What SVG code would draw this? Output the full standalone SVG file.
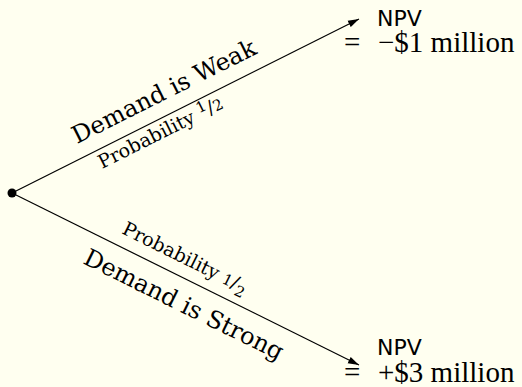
<svg xmlns="http://www.w3.org/2000/svg" width="522" height="387" viewBox="0 0 522 387">
<style>
.lbl{font-family:"DejaVu Serif",serif;fill:#000}
.big{font-size:24px}
.prob{font-size:19px}
.frac{font-size:15px}
.npv{font-family:"DejaVu Sans",sans-serif;font-size:22px;fill:#000}
.val{font-family:"Liberation Serif","Times New Roman",serif;font-size:29px;fill:#000}
.edge{stroke:#000;stroke-width:1.2;fill:none}
</style>
<defs>
<marker id="arr" markerUnits="userSpaceOnUse" markerWidth="12" markerHeight="8" refX="11" refY="4" orient="auto">
<path d="M0,0.5 L11,4 L0,7.5 z" fill="#000"/>
</marker>
</defs>
<rect width="522" height="387" fill="#FFFFF0"/>
<g id="connectors">
<line class="edge" x1="12" y1="193" x2="359" y2="19" marker-end="url(#arr)"/>
<line class="edge" x1="12" y1="193" x2="359" y2="365" marker-end="url(#arr)"/>
</g>
<g id="root">
<circle cx="12" cy="193" r="4.5" fill="#000"/>
</g>
<g id="weak-labels">
<text class="lbl big" transform="translate(77,144) rotate(-26.63)">Demand is Weak</text>
<text class="lbl prob" transform="translate(102,169) rotate(-26.63)">Probability <tspan class="frac" dy="-6">1</tspan><tspan dy="6">/</tspan><tspan class="frac">2</tspan></text>
</g>
<g id="strong-labels">
<text class="lbl prob" transform="translate(121,233) rotate(26.37)">Probability <tspan class="frac">1</tspan>/<tspan class="frac" dy="5">2</tspan></text>
<text class="lbl big" transform="translate(82,263) rotate(26.37)">Demand is Strong</text>
</g>
<g id="outcome-weak">
<text class="npv" x="377" y="26">NPV</text>
<text class="val" x="344" y="52">=</text>
<text class="val" x="378" y="52">−$1 million</text>
</g>
<g id="outcome-strong">
<text class="npv" x="377" y="355">NPV</text>
<text class="val" x="344" y="382">=</text>
<text class="val" x="378" y="382">+$3 million</text>
</g>
</svg>
